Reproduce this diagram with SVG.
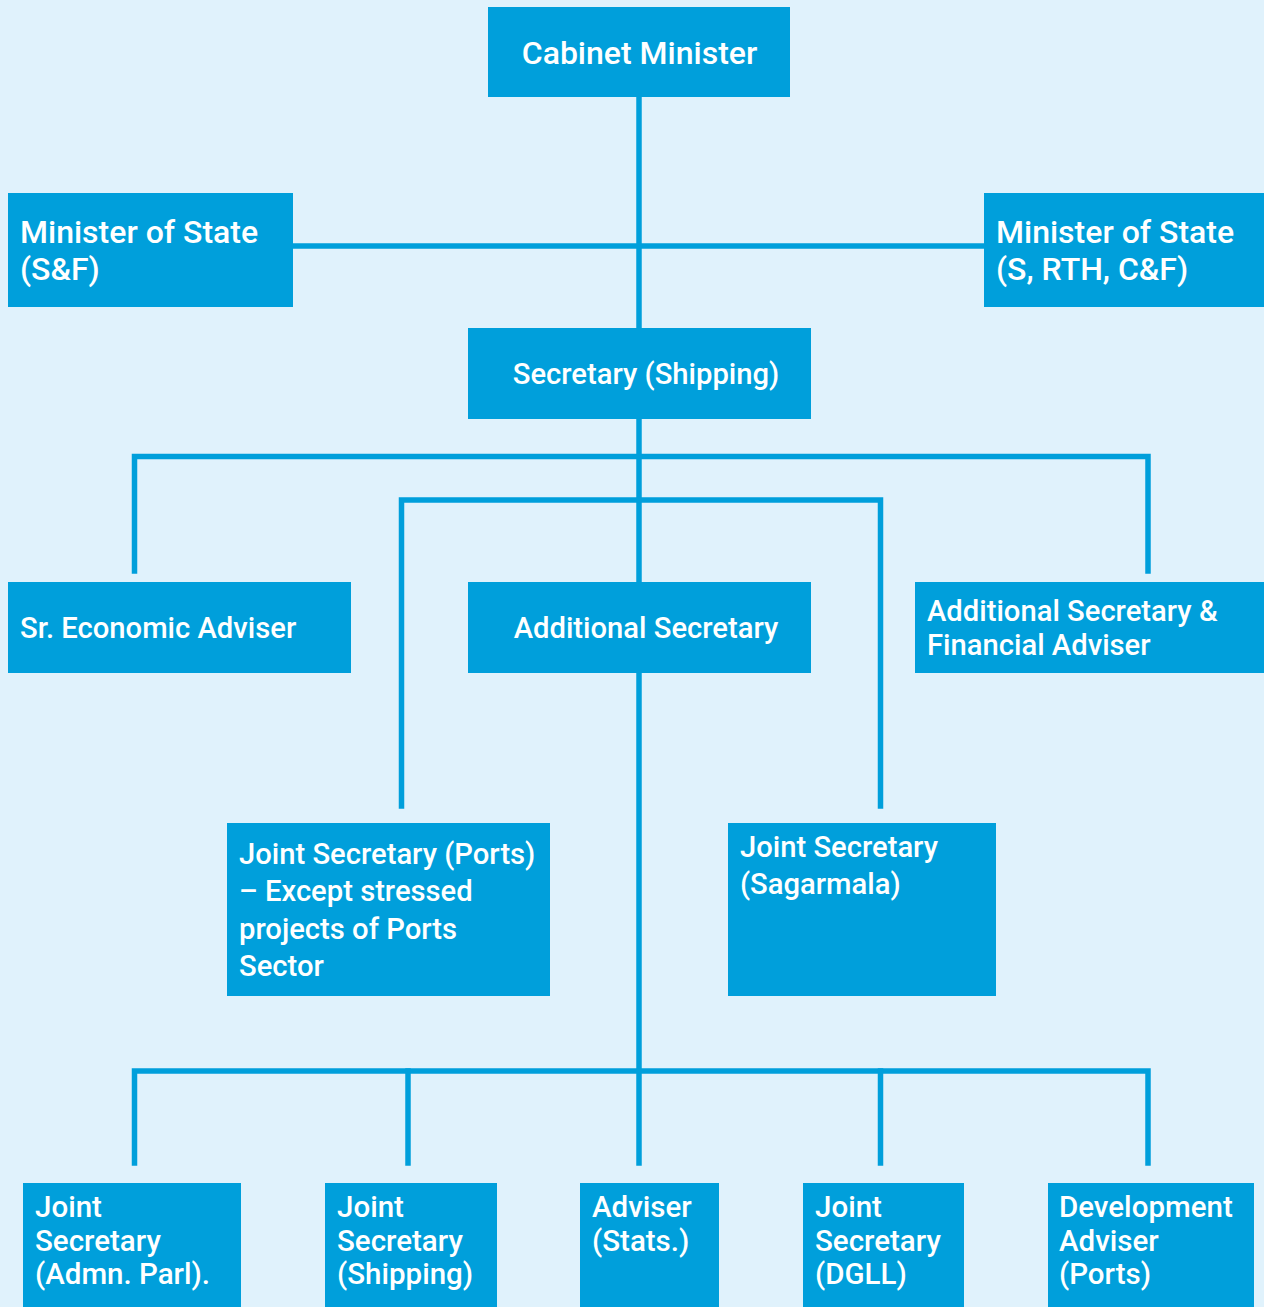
<svg xmlns="http://www.w3.org/2000/svg" width="1264" height="1307" viewBox="0 0 1264 1307">
<style>
.bg{fill:#E0F2FC}
.box{fill:#009FDB}
.c{fill:none;stroke:#009FDB;stroke-width:5.5;stroke-linejoin:miter;stroke-linecap:square}
text{font-family:Roboto,"Liberation Sans",sans-serif;fill:#fff;font-weight:500}
.l{font-size:32px}
.m{font-size:29.2px}
.s{font-size:29.5px}
</style>
<rect class="bg" x="0" y="0" width="1264" height="1307"/>
<g id="connectors">
<path class="c" d="M639 97 V582"/>
<path class="c" d="M293 246 H984"/>
<path class="c" d="M134.5 571 V456.5 H1148 V571"/>
<path class="c" d="M401.5 806 V500 H880.5 V806"/>
<path class="c" d="M639 673 V1163"/>
<path class="c" d="M134.5 1163 V1071 H1148 V1163"/>
<path class="c" d="M408 1071 V1163"/>
<path class="c" d="M880.5 1071 V1163"/>
</g>
<g id="cabinet-minister">
<rect class="box" x="488" y="7" width="302" height="90"/>
<text class="l" x="639.5" y="64" text-anchor="middle">Cabinet Minister</text>
</g>
<g id="mos-sf">
<rect class="box" x="8" y="193" width="285" height="114"/>
<text class="l" x="20" y="243">Minister of State</text>
<text class="l" x="20" y="280">(S&amp;F)</text>
</g>
<g id="mos-s-rth-cf">
<rect class="box" x="984" y="193" width="280" height="114"/>
<text class="l" x="996" y="243">Minister of State</text>
<text class="l" x="996" y="280">(S, RTH, C&amp;F)</text>
</g>
<g id="secretary-shipping">
<rect class="box" x="468" y="328" width="343" height="91"/>
<text class="m" x="646" y="384" text-anchor="middle">Secretary (Shipping)</text>
</g>
<g id="sr-economic-adviser">
<rect class="box" x="8" y="582" width="343" height="91"/>
<text class="m" x="20" y="638">Sr. Economic Adviser</text>
</g>
<g id="additional-secretary">
<rect class="box" x="468" y="582" width="343" height="91"/>
<text class="m" x="646" y="638" text-anchor="middle">Additional Secretary</text>
</g>
<g id="as-fa">
<rect class="box" x="915" y="582" width="349" height="91"/>
<text class="m" x="927" y="621">Additional Secretary &amp;</text>
<text class="m" x="927" y="655">Financial Adviser</text>
</g>
<g id="js-ports">
<rect class="box" x="227" y="823" width="323" height="173"/>
<text class="m" x="239" y="864">Joint Secretary (Ports)</text>
<text class="m" x="239" y="901">– Except stressed</text>
<text class="m" x="239" y="939">projects of Ports</text>
<text class="m" x="239" y="976">Sector</text>
</g>
<g id="js-sagarmala">
<rect class="box" x="728" y="823" width="268" height="173"/>
<text class="m" x="740" y="857">Joint Secretary</text>
<text class="m" x="740" y="894">(Sagarmala)</text>
</g>
<g id="js-admn-parl">
<rect class="box" x="23" y="1183" width="218" height="124"/>
<text class="s" x="35" y="1217">Joint</text>
<text class="s" x="35" y="1251">Secretary</text>
<text class="s" x="35" y="1284">(Admn. Parl).</text>
</g>
<g id="js-shipping">
<rect class="box" x="325" y="1183" width="172" height="124"/>
<text class="s" x="337" y="1217">Joint</text>
<text class="s" x="337" y="1251">Secretary</text>
<text class="s" x="337" y="1284">(Shipping)</text>
</g>
<g id="adviser-stats">
<rect class="box" x="580" y="1183" width="139" height="124"/>
<text class="s" x="592" y="1217">Adviser</text>
<text class="s" x="592" y="1251">(Stats.)</text>
</g>
<g id="js-dgll">
<rect class="box" x="803" y="1183" width="161" height="124"/>
<text class="s" x="815" y="1217">Joint</text>
<text class="s" x="815" y="1251">Secretary</text>
<text class="s" x="815" y="1284">(DGLL)</text>
</g>
<g id="dev-adviser-ports">
<rect class="box" x="1048" y="1183" width="206" height="124"/>
<text class="s" x="1059" y="1217">Development</text>
<text class="s" x="1059" y="1251">Adviser</text>
<text class="s" x="1059" y="1284">(Ports)</text>
</g>
</svg>
